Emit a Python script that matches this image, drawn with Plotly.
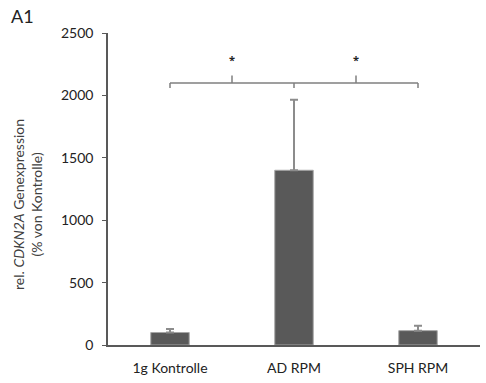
import plotly.graph_objects as go

categories = ["1g Kontrolle", "AD RPM", "SPH RPM"]
values = [100, 1400, 115]
errors = [28, 565, 40]
y_ticks = [0, 500, 1000, 1500, 2000, 2500]

FONT = "Lato"
AX = "#595959"

x = list(range(len(categories)))
fig = go.Figure()
fig.add_trace(go.Bar(
    x=x, y=values, width=0.31,
    marker=dict(color="#595959", line=dict(color="#a6a6a6", width=1)),
    error_y=dict(type="data", array=errors, symmetric=False, arrayminus=[0]*3,
                 color="#8c8c8c", thickness=2, width=4),
))

# significance bracket (data coordinates)
yb = 2100
tk = 40
sh = []
line = dict(color="#7f7f7f", width=1.5)
sh.append(dict(type="line", xref="x", yref="y", x0=x[0], x1=x[2], y0=yb, y1=yb, line=line))
sh.append(dict(type="line", xref="x", yref="y", x0=x[0], x1=x[0], y0=yb, y1=yb - tk, line=line))
sh.append(dict(type="line", xref="x", yref="y", x0=x[2], x1=x[2], y0=yb, y1=yb - tk, line=line))
sh.append(dict(type="line", xref="x", yref="y", x0=x[1], x1=x[1], y0=yb, y1=yb - tk, line=line))
for m in [(x[0] + x[1]) / 2, (x[1] + x[2]) / 2]:
    sh.append(dict(type="line", xref="x", yref="y", x0=m, x1=m, y0=yb, y1=yb + 1.5 * tk, line=line))

ann = []
for m in [(x[0] + x[1]) / 2, (x[1] + x[2]) / 2]:
    ann.append(dict(x=m, y=2285, xref="x", yref="y", text="<b>*</b>", showarrow=False,
                    font=dict(family="Open Sans", size=11, color="#222")))
ann.append(dict(x=(27 - 108) / 372, y=(345 - 205) / 312, xref="paper", yref="paper",
                xanchor="center", yanchor="middle", textangle=-90,
                text="rel. <i>CDKN2A</i> Genexpression<br>(% von Kontrolle)",
                showarrow=False, font=dict(family=FONT, size=14, color="#404040")))
ann.append(dict(x=-0.265, y=1.055, xref="paper", yref="paper", text="A1", showarrow=False,
                xanchor="left", yanchor="middle",
                font=dict(family=FONT, size=18, color="#222")))

fig.update_layout(
    width=486, height=383,
    margin=dict(l=108, r=6, t=33, b=38),
    paper_bgcolor="white", plot_bgcolor="white",
    showlegend=False,
    shapes=sh, annotations=ann,
    xaxis=dict(tickmode="array", tickvals=x, ticktext=categories, range=[-0.5, 2.5],
               showline=True, linecolor=AX, linewidth=1.5, ticks="", showgrid=False,
               zeroline=False, ticklabelstandoff=9,
               tickfont=dict(family=FONT, size=14, color="#222")),
    yaxis=dict(range=[0, 2500], tickvals=y_ticks, showline=True, linecolor=AX, linewidth=1.5,
               ticks="outside", ticklen=4, tickcolor=AX, showgrid=False, zeroline=False,
               ticklabelstandoff=6,
               tickfont=dict(family=FONT, size=14, color="#222")),
)
fig.write_html("out.html")
